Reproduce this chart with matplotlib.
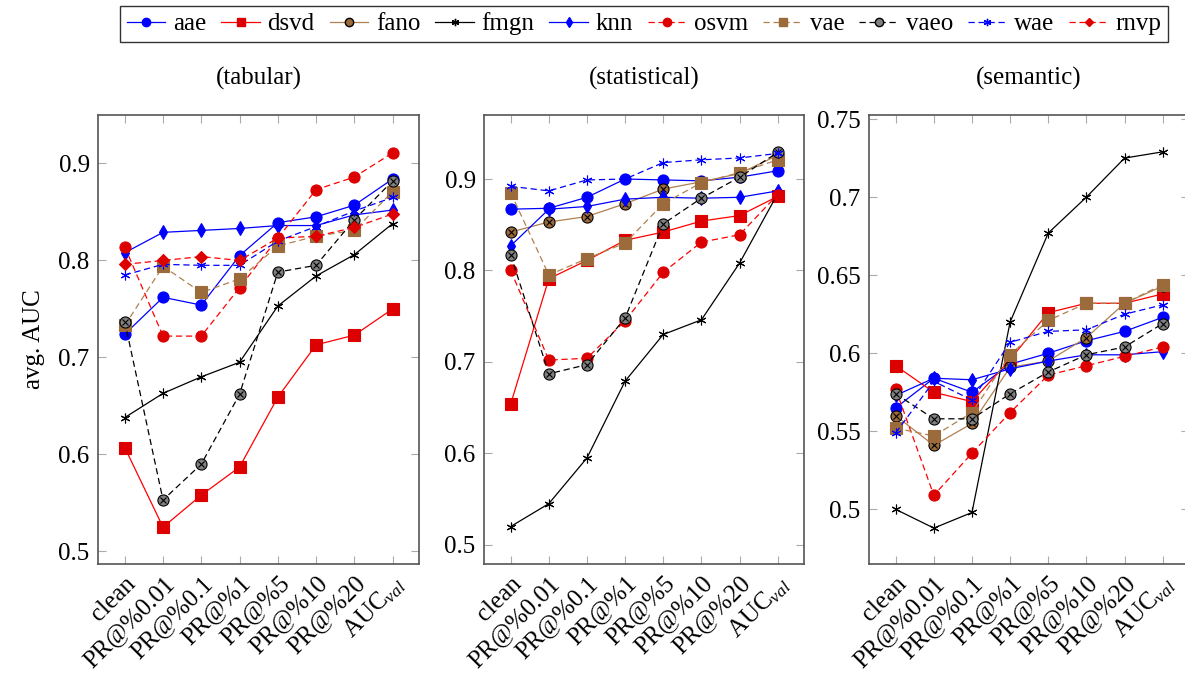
import matplotlib.pyplot as plt
from matplotlib.lines import Line2D

plt.rcParams['font.family'] = ['Liberation Serif', 'DejaVu Serif']
plt.rcParams['mathtext.fontset'] = 'custom'
plt.rcParams['mathtext.rm'] = 'Liberation Serif'
plt.rcParams['mathtext.it'] = 'Liberation Serif:italic'

x_labels = ['clean', 'PR@%0.01', 'PR@%0.1', 'PR@%1', 'PR@%5', 'PR@%10', 'PR@%20', r'AUC$_{val}$']
titles = ['(tabular)', '(statistical)', '(semantic)']

# tabular
tab_aae = [0.724, 0.762, 0.754, 0.805, 0.839, 0.845, 0.857, 0.884]
tab_dsvd = [0.607, 0.525, 0.558, 0.587, 0.659, 0.713, 0.723, 0.750]
tab_fmgn = [0.638, 0.663, 0.680, 0.695, 0.753, 0.784, 0.806, 0.838]
tab_knn = [0.808, 0.829, 0.831, 0.833, 0.836, 0.836, 0.847, 0.852]
tab_osvm = [0.814, 0.722, 0.722, 0.772, 0.823, 0.873, 0.886, 0.911]
tab_vae = [0.733, 0.794, 0.767, 0.781, 0.815, 0.825, 0.831, 0.871]
tab_vaeo = [0.737, 0.553, 0.590, 0.662, 0.788, 0.795, 0.842, 0.882]
tab_wae = [0.785, 0.796, 0.795, 0.795, 0.820, 0.835, 0.851, 0.865]
tab_rnvp = [0.796, 0.800, 0.804, 0.800, 0.823, 0.825, 0.834, 0.848]

# statistical
st_aae = [0.867, 0.868, 0.880, 0.900, 0.899, 0.898, 0.902, 0.909]
st_dsvd = [0.654, 0.791, 0.811, 0.833, 0.842, 0.854, 0.860, 0.881]
st_fano = [0.842, 0.853, 0.859, 0.873, 0.889, 0.897, 0.906, 0.926]
st_fmgn = [0.520, 0.545, 0.595, 0.679, 0.730, 0.746, 0.808, 0.884]
st_knn = [0.827, 0.867, 0.870, 0.878, 0.880, 0.879, 0.880, 0.887]
st_osvm = [0.800, 0.702, 0.704, 0.745, 0.798, 0.831, 0.839, 0.883]
st_vae = [0.885, 0.795, 0.813, 0.830, 0.873, 0.896, 0.907, 0.921]
st_vaeo = [0.817, 0.687, 0.697, 0.748, 0.851, 0.879, 0.902, 0.929]
st_wae = [0.892, 0.887, 0.899, 0.900, 0.918, 0.921, 0.923, 0.928]

# semantic
se_aae = [0.565, 0.584, 0.575, 0.593, 0.600, 0.608, 0.614, 0.623]
se_dsvd = [0.592, 0.575, 0.569, 0.596, 0.626, 0.632, 0.632, 0.638]
se_fano = [0.560, 0.541, 0.555, 0.591, 0.595, 0.610, 0.632, 0.643]
se_fmgn = [0.500, 0.488, 0.498, 0.620, 0.677, 0.700, 0.725, 0.729]
se_knn = [0.573, 0.584, 0.583, 0.590, 0.595, 0.599, 0.599, 0.601]
se_osvm = [0.577, 0.509, 0.536, 0.562, 0.586, 0.592, 0.598, 0.604]
se_vae = [0.552, 0.547, 0.562, 0.599, 0.621, 0.632, 0.632, 0.644]
se_vaeo = [0.574, 0.558, 0.558, 0.574, 0.588, 0.599, 0.604, 0.619]
se_wae = [0.549, 0.582, 0.570, 0.607, 0.614, 0.615, 0.625, 0.631]

panels = [
    {'aae': tab_aae, 'dsvd': tab_dsvd, 'fmgn': tab_fmgn, 'knn': tab_knn, 'osvm': tab_osvm,
     'vae': tab_vae, 'vaeo': tab_vaeo, 'wae': tab_wae, 'rnvp': tab_rnvp},
    {'aae': st_aae, 'dsvd': st_dsvd, 'fano': st_fano, 'fmgn': st_fmgn, 'knn': st_knn,
     'osvm': st_osvm, 'vae': st_vae, 'vaeo': st_vaeo, 'wae': st_wae},
    {'aae': se_aae, 'dsvd': se_dsvd, 'fano': se_fano, 'fmgn': se_fmgn, 'knn': se_knn,
     'osvm': se_osvm, 'vae': se_vae, 'vaeo': se_vaeo, 'wae': se_wae},
]

BROWN = '#9c6b3c'
# name: (line color, marker, marker face, linestyle, marker size)
styles = {
    'aae': ('#0000ff', 'o', '#0000ff', '-', 8),
    'dsvd': ('#ff0000', 's', '#dd0000', '-', 8),
    'fano': ('#b08050', 'o', BROWN, '-', 8),
    'fmgn': ('black', (6, 2, 0), 'black', '-', 7),
    'knn': ('#0000ff', 'd', '#0000ff', '-', 7),
    'osvm': ('#ff0000', 'o', '#dd0000', (0, (5, 3)), 8),
    'vae': ('#b08050', 's', BROWN, (0, (5, 3)), 8),
    'vaeo': ('black', 'o', 'gray', (0, (5, 3)), 8),
    'wae': ('#0000ff', (6, 2, 0), '#0000ff', (0, (5, 3)), 7),
    'rnvp': ('#ff0000', 'D', '#dd0000', (0, (5, 3)), 6),
}
otimes = {'fano', 'vaeo'}
order = ['aae', 'dsvd', 'fano', 'fmgn', 'knn', 'osvm', 'vae', 'vaeo', 'wae', 'rnvp']


def edge(name):
    c, m, fc, ls, ms = styles[name]
    if name in otimes:
        return 'black'
    if m == (6, 2, 0):
        return c
    return fc


fig = plt.figure(figsize=(11.85, 6.8), dpi=100)
W, H = 1185, 680
boxes = [(98, 419), (484, 804), (869, 1189)]
ylims = [(0.487, 0.95), (0.479, 0.970), (0.465, 0.7526)]
yticks = [[0.5, 0.6, 0.7, 0.8, 0.9], [0.5, 0.6, 0.7, 0.8, 0.9],
          [0.5, 0.55, 0.6, 0.65, 0.7, 0.75]]

for i, (l, r) in enumerate(boxes):
    ax = fig.add_axes([l / W, (H - 564) / H, (r - l) / W, (564 - 115) / H])
    data = panels[i]
    for name in order:
        if name not in data:
            continue
        c, m, fc, ls, ms = styles[name]
        ax.plot(range(8), data[name], color=c, linestyle=ls, linewidth=0.9,
                marker=m, markersize=ms, markerfacecolor=fc,
                markeredgecolor=edge(name), markeredgewidth=0.8)
        if name in otimes:
            ax.plot(range(8), data[name], linestyle='none', marker='x',
                    markersize=5, color='black', markeredgewidth=0.8)
    ax.set_xlim(-0.7, 7.69)
    ax.set_ylim(*ylims[i])
    ax.set_yticks(yticks[i])
    ax.set_yticklabels([('%g' % v) for v in yticks[i]])
    ax.set_xticks(range(8))
    ax.set_xticklabels(x_labels, rotation=45, ha='right', va='top',
                       rotation_mode='anchor', fontsize=18)
    ax.tick_params(direction='in', length=6, color='#aaaaaa', labelsize=18,
                   top=True, right=True, pad=6)
    for s in ax.spines.values():
        s.set_color('#555555')
        s.set_linewidth(1.2)
    ax.set_title(titles[i], fontsize=18, pad=22)
    if i == 0:
        ax.set_ylabel('avg. AUC', fontsize=18, labelpad=10)

handles = []
for name in order:
    c, m, fc, ls, ms = styles[name]
    handles.append(Line2D([], [], color=c, linestyle=ls, linewidth=0.9, marker=m,
                          markersize=ms * 0.75, markerfacecolor=fc,
                          markeredgecolor=edge(name)))
fig.legend(handles, order, loc='center', bbox_to_anchor=(644 / W, 1 - 24 / H),
           ncol=10, fontsize=18, frameon=True, fancybox=False, edgecolor='black',
           handlelength=1.55, handletextpad=0.3, columnspacing=0.6, borderpad=0.25)

fig.savefig('out.png', dpi=100)
